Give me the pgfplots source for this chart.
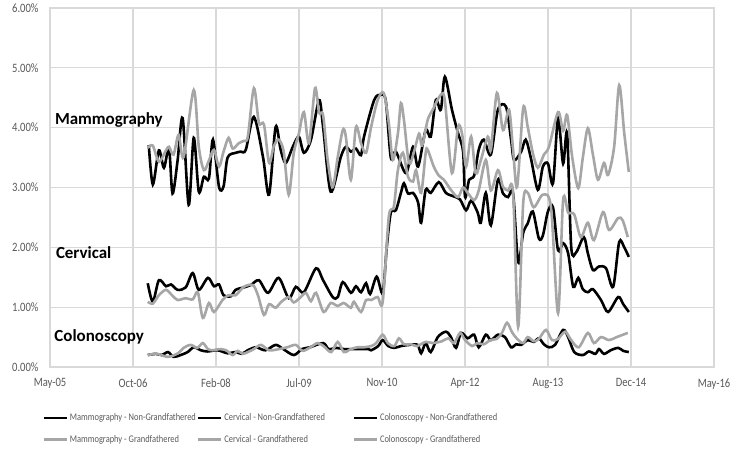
\documentclass[border=0pt]{standalone}
\usepackage{fontspec}
\setmainfont{Carlito}[FakeStretch=0.83]
\newfontfamily\annfont{Carlito}
\usepackage{pgfplots}
\pgfplotsset{compat=1.18}
\definecolor{gridc}{HTML}{D9D9D9}
\definecolor{txtc}{HTML}{595959}
\definecolor{grayl}{HTML}{A6A6A6}
\begin{document}
\begin{tikzpicture}
\begin{axis}[
  name=ax,
  scale only axis, width=664bp, height=359bp,
  xmin=-19.15, xmax=112.27, ymin=0, ymax=6,
  xtick={-19.15,-2.72,13.70,30.13,46.56,62.99,79.41,95.84,112.27},
  xticklabels={May-05,Oct-06,Feb-08,Jul-09,Nov-10,Apr-12,Aug-13,Dec-14,May-16},
  ytick={0,1,2,3,4,5,6},
  yticklabels={0.00\%,1.00\%,2.00\%,3.00\%,4.00\%,5.00\%,6.00\%},
  major tick length=0pt,
  grid=major, grid style={gridc, line width=1.3bp},
  axis line style={gridc, line width=1.3bp},
  tick label style={font=\fontsize{12.8}{14}\selectfont, text=txtc},
  yticklabel style={xshift=-8bp},
  xticklabel style={yshift=-8bp},
  legend columns=3,
  legend style={at={(rel axis cs:-0.012,-0.124)}, anchor=north west, draw=none, fill=none,
    inner sep=0pt, font=\fontsize{10.2}{12}\selectfont, text=txtc,
    /tikz/every odd column/.append style={column sep=0pt},
    row sep=9bp},
  legend cell align=left,
  legend image code/.code={\draw[#1] (0bp,0bp) -- (23bp,0bp);},
  every axis plot/.append style={line width=2.6bp, smooth, tension=0.5},
  clip=false,
]
% Mammography - Non-Grandfathered
\addplot[black] coordinates {
(0.4,3.71)(1.2,3.05)(2.4,3.62)(3.4,3.33)(4.4,3.66)(5.1,2.90)(6.1,3.45)(7.1,4.16)(8.3,2.71)(9.3,3.83)(10.3,2.93)(11.3,3.18)(12.3,3.15)(13.1,3.80)(14.3,3.01)(15.2,3.02)(16.0,3.50)(17.6,3.58)(18.6,3.60)(19.6,3.63)(21.2,4.18)(23.0,3.51)(24.2,2.88)(25.5,4.01)(26.5,3.63)(27.5,3.41)(28.9,3.68)(30.1,3.85)(31.1,3.58)(32.5,3.80)(34.1,4.46)(34.9,4.01)(36.4,2.93)(38.4,3.51)(39.4,3.68)(40.4,3.60)(41.4,3.65)(42.4,3.54)(43.0,3.85)(45.0,4.46)(46.3,4.55)(47.3,4.45)(48.3,3.50)(49.3,3.60)(51.3,3.24)(52.7,3.68)(53.7,3.35)(55.2,3.96)(56.2,3.85)(57.2,4.46)(58.2,4.30)(59.0,4.85)(60.4,4.30)(61.6,3.91)(62.6,3.60)(63.0,2.84)(63.8,3.13)(64.8,3.20)(65.7,3.63)(66.7,3.80)(68.1,3.55)(69.5,4.30)(71.1,4.35)(72.1,3.80)(72.7,3.46)(74.1,3.60)(75.0,3.80)(76.0,3.50)(77.4,2.96)(78.4,3.35)(79.4,3.40)(80.4,3.07)(81.4,4.16)(82.4,3.40)(83.2,3.90)(84.0,2.01)(85.0,1.92)(86.5,2.17)(87.3,1.90)(88.3,1.62)(89.5,1.68)(90.9,1.65)(92.3,1.34)(93.5,2.09)(94.5,2.00)(95.4,1.84)};
\addlegendentry{\makebox[125bp][l]{Mammography - Non-Grandfathered}}
% Cervical - Non-Grandfathered
\addplot[black] coordinates {
(0.2,1.40)(1.2,1.09)(2.4,1.45)(3.8,1.35)(4.8,1.38)(6.1,1.29)(7.7,1.33)(9.1,1.57)(10.3,1.29)(12.1,1.49)(13.3,1.35)(14.3,1.38)(15.2,1.20)(16.6,1.18)(17.6,1.29)(19.2,1.33)(20.6,1.37)(22.2,1.45)(24.0,1.24)(26.1,1.49)(28.1,1.15)(29.5,1.34)(31.1,1.25)(33.5,1.65)(34.9,1.45)(36.8,1.17)(37.8,1.17)(38.8,1.42)(40.4,1.24)(41.4,1.35)(42.4,1.25)(43.4,1.40)(44.2,1.22)(45.5,1.51)(46.7,1.24)(47.5,2.00)(48.3,2.58)(49.3,2.62)(50.3,2.91)(50.9,3.07)(51.7,2.90)(52.7,2.91)(53.7,2.75)(54.3,2.41)(55.2,2.96)(56.2,2.91)(57.8,3.09)(59.2,2.91)(60.8,2.85)(62.0,2.80)(63.2,2.62)(64.2,2.78)(65.5,2.58)(66.1,2.41)(67.1,2.91)(68.1,2.37)(69.5,3.13)(70.5,2.90)(71.5,2.84)(72.5,2.90)(73.5,1.75)(74.5,2.24)(75.4,2.40)(76.4,2.60)(77.6,2.15)(78.4,2.20)(79.4,2.60)(80.4,2.67)(81.4,1.95)(82.4,2.07)(83.4,1.90)(84.4,1.34)(85.4,1.49)(86.3,1.30)(87.3,1.25)(88.3,1.30)(89.9,1.12)(91.3,0.92)(93.3,1.17)(94.3,1.05)(95.4,0.92)};
\addlegendentry{\makebox[126bp][l]{Cervical - Non-Grandfathered}}
% Colonoscopy - Non-Grandfathered
\addplot[black] coordinates {
(0.2,0.20)(1.8,0.22)(3.0,0.20)(4.2,0.25)(5.3,0.17)(6.7,0.20)(8.1,0.25)(9.3,0.33)(10.7,0.28)(12.0,0.26)(14.0,0.28)(16.0,0.23)(17.6,0.25)(18.8,0.22)(20.0,0.28)(21.6,0.33)(23.5,0.28)(25.5,0.37)(27.0,0.30)(29.1,0.20)(30.7,0.30)(32.3,0.33)(34.9,0.40)(36.0,0.30)(37.5,0.32)(39.0,0.30)(40.6,0.30)(42.2,0.30)(43.9,0.30)(44.4,0.28)(45.8,0.35)(46.7,0.45)(47.8,0.35)(49.0,0.32)(50.3,0.35)(52.0,0.37)(53.6,0.37)(54.3,0.23)(55.2,0.40)(56.2,0.25)(57.6,0.50)(59.2,0.59)(60.2,0.50)(61.2,0.32)(62.2,0.57)(63.5,0.48)(64.8,0.54)(65.7,0.33)(67.1,0.54)(68.1,0.45)(69.5,0.54)(70.9,0.50)(72.1,0.33)(73.1,0.38)(74.1,0.37)(75.4,0.45)(76.6,0.42)(77.6,0.48)(78.6,0.38)(79.6,0.33)(80.8,0.37)(82.4,0.62)(83.4,0.50)(84.6,0.25)(86.3,0.20)(87.5,0.26)(88.8,0.22)(89.5,0.30)(90.5,0.22)(91.8,0.28)(93.3,0.32)(94.3,0.27)(95.4,0.25)};
\addlegendentry{Colonoscopy - Non-Grandfathered}
% Mammography - Grandfathered
\addplot[grayl] coordinates {
(0.2,3.66)(1.2,3.70)(2.4,3.43)(3.8,3.62)(4.4,3.68)(5.3,3.55)(6.3,3.88)(7.3,3.51)(9.3,4.63)(10.3,3.68)(11.3,3.29)(12.3,3.45)(13.3,3.63)(14.3,3.35)(15.2,3.60)(16.2,3.83)(17.0,3.65)(18.2,3.74)(19.2,3.78)(20.0,3.85)(21.2,4.66)(22.2,4.08)(23.2,4.05)(24.2,3.41)(25.1,3.68)(26.1,3.80)(27.1,3.60)(28.1,2.88)(29.1,3.58)(30.1,3.90)(31.1,4.26)(32.1,3.74)(33.3,4.66)(34.1,4.25)(34.9,4.21)(35.8,3.46)(36.8,3.01)(37.8,3.51)(38.8,3.96)(39.4,3.85)(40.4,3.13)(41.4,4.01)(42.4,3.74)(43.4,3.58)(44.4,4.01)(45.7,4.46)(46.9,4.58)(47.9,4.08)(48.7,3.46)(49.7,3.90)(50.3,4.41)(50.9,4.13)(51.9,3.41)(52.9,3.60)(53.9,3.90)(54.5,3.70)(55.6,4.13)(56.6,4.30)(58.2,4.55)(59.0,4.45)(60.4,3.24)(61.6,4.01)(62.4,3.90)(63.2,3.35)(64.2,3.85)(65.1,3.24)(66.1,3.45)(67.5,3.85)(68.1,3.63)(69.3,4.58)(70.5,3.96)(71.7,4.30)(72.5,3.63)(73.3,3.01)(74.5,4.33)(75.4,4.01)(76.4,3.58)(77.4,3.33)(78.6,3.55)(79.6,3.68)(81.4,4.26)(82.4,3.95)(83.2,4.21)(84.2,3.51)(85.4,2.99)(86.3,3.50)(87.3,3.99)(88.3,3.55)(89.3,3.13)(90.5,3.41)(91.3,3.21)(92.5,3.68)(93.5,4.71)(94.5,3.91)(95.4,3.26)};
\addlegendentry{Mammography - Grandfathered}
% Cervical - Grandfathered
\addplot[grayl] coordinates {
(0.2,1.09)(1.2,1.06)(2.4,1.20)(3.8,1.29)(5.0,1.20)(6.1,1.12)(7.7,1.15)(9.1,1.13)(10.1,1.25)(11.1,0.82)(12.3,1.07)(13.3,0.92)(15.0,1.12)(16.2,1.20)(17.6,1.20)(19.2,1.34)(21.0,1.37)(22.0,1.20)(23.2,0.87)(24.2,1.05)(25.5,0.99)(26.5,1.08)(28.1,1.17)(29.1,1.08)(30.5,1.17)(31.5,1.24)(32.5,1.10)(33.5,1.24)(35.0,0.92)(36.4,1.07)(37.8,1.02)(39.0,1.07)(40.4,0.99)(41.0,1.09)(42.4,0.92)(43.4,1.12)(44.4,1.12)(45.7,1.17)(46.7,1.09)(47.9,2.51)(48.9,2.68)(49.7,3.29)(50.7,3.58)(51.7,3.18)(52.7,3.10)(53.3,3.29)(54.3,2.91)(55.2,3.58)(55.6,3.63)(56.8,3.35)(57.8,3.20)(58.8,3.13)(60.2,2.96)(61.6,2.84)(62.6,3.00)(63.6,2.90)(64.8,2.79)(65.7,2.95)(67.1,3.46)(68.1,2.95)(69.5,3.29)(70.5,3.01)(71.5,2.95)(72.5,2.91)(73.5,0.67)(74.5,2.74)(75.4,2.91)(76.6,2.67)(78.4,2.88)(80.0,2.67)(81.4,0.90)(82.4,2.79)(83.4,2.58)(84.6,2.55)(85.9,2.17)(87.3,2.41)(88.5,2.12)(90.3,2.59)(91.5,2.29)(93.3,2.49)(94.2,2.45)(95.2,2.17)};
\addlegendentry{Cervical - Grandfathered}
% Colonoscopy - Grandfathered
\addplot[grayl] coordinates {
(0.2,0.20)(2.0,0.22)(4.2,0.17)(6.2,0.23)(7.3,0.32)(8.7,0.37)(10.0,0.32)(11.1,0.40)(12.1,0.30)(13.1,0.28)(14.4,0.30)(15.7,0.28)(17.0,0.20)(18.0,0.27)(19.0,0.22)(20.0,0.25)(21.2,0.30)(22.6,0.37)(24.2,0.28)(26.2,0.30)(27.8,0.33)(29.5,0.37)(30.8,0.27)(32.4,0.33)(33.8,0.40)(35.0,0.35)(36.5,0.25)(37.8,0.42)(39.0,0.25)(40.4,0.30)(41.7,0.33)(43.0,0.33)(44.4,0.35)(45.4,0.40)(46.7,0.54)(47.7,0.40)(49.0,0.35)(49.9,0.48)(50.9,0.38)(52.3,0.38)(53.5,0.35)(55.2,0.42)(56.6,0.40)(58.4,0.43)(59.7,0.48)(60.8,0.40)(62.0,0.57)(63.0,0.45)(64.4,0.35)(65.4,0.40)(66.7,0.38)(68.0,0.45)(69.3,0.47)(70.3,0.57)(71.3,0.74)(72.3,0.58)(73.3,0.47)(74.5,0.40)(75.4,0.50)(76.6,0.43)(77.6,0.47)(79.0,0.62)(80.2,0.45)(81.4,0.47)(82.8,0.59)(84.0,0.45)(85.5,0.33)(87.3,0.57)(88.5,0.40)(89.9,0.50)(91.5,0.45)(93.0,0.50)(95.2,0.57)};
\addlegendentry{Colonoscopy - Grandfathered}
\node[anchor=base west, inner sep=0pt, font=\annfont\bfseries\fontsize{17}{20}\selectfont] at (axis cs:-18.2,4.06) {Mammography};
\node[anchor=base west, inner sep=0pt, font=\annfont\bfseries\fontsize{17}{20}\selectfont] at (axis cs:-18.0,1.81) {Cervical};
\node[anchor=base west, inner sep=0pt, font=\annfont\bfseries\fontsize{17}{20}\selectfont] at (axis cs:-18.3,0.42) {Colonoscopy};
\coordinate (bl) at (rel axis cs:-0.0753,-0.2256);
\coordinate (tr) at (rel axis cs:1.0361,1.0223);
\end{axis}
\pgfresetboundingbox
\path (bl) rectangle (tr);
\end{tikzpicture}
\end{document}
